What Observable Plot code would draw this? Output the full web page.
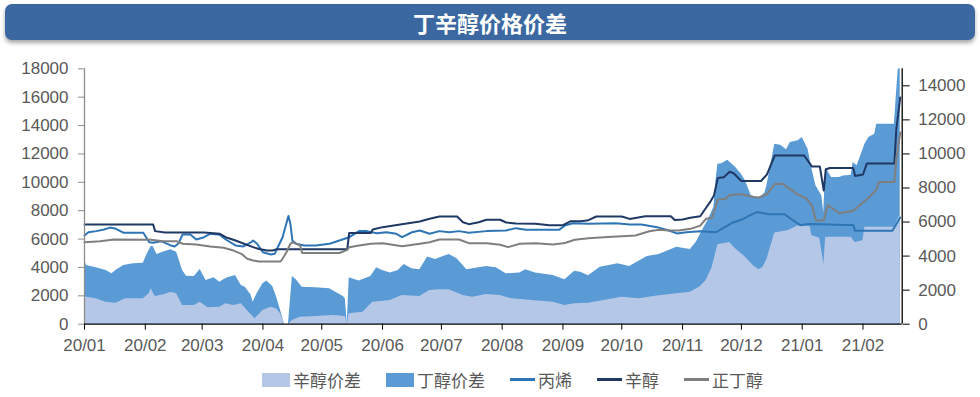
<!DOCTYPE html>
<html><head><meta charset="utf-8">
<script src="https://cdn.jsdelivr.net/npm/d3@7"></script>
<script src="https://cdn.jsdelivr.net/npm/@observablehq/plot@0.6"></script>
<style>
html,body{margin:0;padding:0;background:#fff;}
#wrap{position:relative;width:980px;height:397px;overflow:hidden;}
#title{position:absolute;left:5px;top:4px;width:970px;height:36px;background:#3B68A1;border-radius:7px;box-shadow:0 3px 4px rgba(0,0,0,0.35);color:#fff;font:bold 22px "Noto Sans CJK SC",sans-serif;text-align:center;line-height:36px;}
#chart{position:absolute;left:0;top:50px;}
#legend{position:absolute;left:262px;top:367px;display:flex;gap:25px;align-items:center;font:17px "Noto Sans CJK SC",sans-serif;color:#595959;}
.item{display:flex;align-items:center;gap:3px;}
</style></head>
<body><div id="wrap"><div id="title">丁辛醇价格价差</div><div id="chart"></div><div id="legend"></div></div>
<script>
// ---- data (prices: left axis; spreads: right axis) ----
const propylene = [["2020-01-01",6250],["2020-01-03",6480],["2020-01-07",6560],["2020-01-11",6670],["2020-01-14",6810],["2020-01-17",6720],["2020-01-21",6440],["2020-01-31",6440],["2020-02-03",5780],["2020-02-05",5740],["2020-02-09",5850],["2020-02-14",5550],["2020-02-16",5480],["2020-02-18",5710],["2020-02-20",6320],["2020-02-24",6320],["2020-02-27",5970],["2020-03-02",6130],["2020-03-05",6370],["2020-03-10",6300],["2020-03-13",5970],["2020-03-18",5550],["2020-03-22",5480],["2020-03-26",5780],["2020-03-27",5900],["2020-03-29",5670],["2020-04-01",5070],["2020-04-05",4910],["2020-04-07",4960],["2020-04-09",5550],["2020-04-11",6130],["2020-04-14",7620],["2020-04-15",7080],["2020-04-16",5900],["2020-04-18",5670],["2020-04-22",5550],["2020-04-28",5550],["2020-05-05",5670],["2020-05-10",5900],["2020-05-15",6130],["2020-05-20",6560],["2020-05-24",6560],["2020-05-29",6410],["2020-06-03",6480],["2020-06-08",6370],["2020-06-11",6130],["2020-06-16",6480],["2020-06-20",6600],["2020-06-25",6370],["2020-06-30",6560],["2020-07-05",6480],["2020-07-10",6560],["2020-07-15",6440],["2020-07-24",6560],["2020-08-03",6600],["2020-08-08",6770],["2020-08-13",6650],["2020-08-30",6650],["2020-09-02",6960],["2020-09-06",7120],["2020-09-14",7080],["2020-09-28",7120],["2020-10-05",7030],["2020-10-11",7030],["2020-10-19",6840],["2020-10-25",6600],["2020-10-29",6400],["2020-11-03",6480],["2020-11-10",6550],["2020-11-18",6480],["2020-11-21",6720],["2020-11-27",7190],["2020-12-01",7360],["2020-12-05",7650],["2020-12-09",7900],["2020-12-15",7750],["2020-12-23",7750],["2020-12-26",7450],["2020-12-31",6980],["2021-01-04",7060],["2021-01-11",7050],["2021-01-22",7000],["2021-01-27",7000],["2021-01-28",6580],["2021-02-16",6580],["2021-02-20",7520]];

const octanol = [["2020-01-01",7030],["2020-02-05",7030],["2020-02-06",6560],["2020-02-11",6460],["2020-03-02",6460],["2020-03-10",6370],["2020-03-13",6130],["2020-03-18",5900],["2020-03-22",5690],["2020-03-27",5430],["2020-03-30",5300],["2020-04-03",5200],["2020-04-06",5190],["2020-04-08",5290],["2020-05-14",5290],["2020-05-15",6430],["2020-05-26",6430],["2020-05-27",6670],["2020-06-01",6840],["2020-06-10",7030],["2020-06-20",7240],["2020-06-25",7430],["2020-06-30",7590],["2020-07-09",7590],["2020-07-12",7190],["2020-07-15",7050],["2020-07-20",7190],["2020-07-24",7360],["2020-07-31",7360],["2020-08-03",7170],["2020-08-08",7100],["2020-08-18",7080],["2020-08-25",6980],["2020-09-01",6980],["2020-09-05",7260],["2020-09-10",7260],["2020-09-14",7330],["2020-09-18",7590],["2020-10-01",7590],["2020-10-05",7420],["2020-10-13",7610],["2020-10-26",7610],["2020-10-28",7340],["2020-11-01",7380],["2020-11-05",7500],["2020-11-10",7610],["2020-11-12",8010],["2020-11-15",8600],["2020-11-17",9070],["2020-11-19",10300],["2020-11-22",10360],["2020-11-25",10740],["2020-11-27",10640],["2020-12-01",10090],["2020-12-11",10090],["2020-12-14",10550],["2020-12-18",11890],["2021-01-02",11890],["2021-01-06",11110],["2021-01-10",11110],["2021-01-12",9420],["2021-01-13",10900],["2021-01-15",11010],["2021-01-27",11010],["2021-01-28",10450],["2021-02-01",10550],["2021-02-03",11330],["2021-02-17",11330],["2021-02-18",13740],["2021-02-20",15980]];

const butanol = [["2020-01-01",5780],["2020-01-09",5850],["2020-01-16",5970],["2020-02-04",5950],["2020-02-10",5850],["2020-02-17",5850],["2020-02-20",5670],["2020-02-27",5620],["2020-03-05",5480],["2020-03-12",5390],["2020-03-17",5190],["2020-03-21",4960],["2020-03-24",4610],["2020-03-27",4490],["2020-03-30",4420],["2020-04-10",4420],["2020-04-11",4610],["2020-04-13",5070],["2020-04-15",5670],["2020-04-16",5780],["2020-04-20",5550],["2020-04-21",5020],["2020-05-10",5020],["2020-05-14",5240],["2020-05-15",5430],["2020-05-20",5550],["2020-05-26",5670],["2020-06-01",5710],["2020-06-06",5600],["2020-06-11",5500],["2020-06-20",5670],["2020-06-25",5780],["2020-06-30",5970],["2020-07-10",5970],["2020-07-15",5710],["2020-07-24",5710],["2020-07-31",5600],["2020-08-04",5430],["2020-08-10",5670],["2020-08-18",5710],["2020-08-27",5620],["2020-09-02",5720],["2020-09-07",5950],["2020-09-14",6050],["2020-09-24",6150],["2020-10-08",6250],["2020-10-15",6550],["2020-10-20",6650],["2020-10-25",6600],["2020-10-30",6600],["2020-11-05",6720],["2020-11-10",6950],["2020-11-13",7430],["2020-11-16",7500],["2020-11-19",8790],["2020-11-23",8840],["2020-11-25",9100],["2020-12-01",9160],["2020-12-07",8970],["2020-12-10",8930],["2020-12-14",9160],["2020-12-18",9880],["2020-12-22",9900],["2020-12-26",9500],["2020-12-29",9210],["2021-01-03",8860],["2021-01-06",8350],["2021-01-08",7310],["2021-01-12",7310],["2021-01-14",8400],["2021-01-20",7820],["2021-01-27",7990],["2021-01-30",8350],["2021-02-04",8930],["2021-02-08",9520],["2021-02-09",10020],["2021-02-17",10020],["2021-02-18",11630],["2021-02-20",13510]];

const octanolSpread = [["2020-01-01",1650],["2020-01-02",1590],["2020-01-07",1490],["2020-01-12",1290],["2020-01-17",1230],["2020-01-22",1490],["2020-01-31",1490],["2020-02-03",1790],["2020-02-04",2080],["2020-02-06",1630],["2020-02-11",1740],["2020-02-14",1880],["2020-02-17",1790],["2020-02-20",1100],["2020-02-26",1100],["2020-02-29",1290],["2020-03-04",960],["2020-03-10",1000],["2020-03-13",1200],["2020-03-17",1100],["2020-03-21",1200],["2020-03-24",810],["2020-03-28",320],["2020-04-01",800],["2020-04-05",1000],["2020-04-08",900],["2020-04-10",610],["2020-04-12",0],["2020-04-14",0],["2020-04-16",220],["2020-04-20",410],["2020-04-28",450],["2020-05-07",510],["2020-05-13",450],["2020-05-14",20],["2020-05-15",610],["2020-05-22",700],["2020-05-27",1290],["2020-06-05",1390],["2020-06-11",1690],["2020-06-20",1630],["2020-06-25",1980],["2020-06-30",2020],["2020-07-05",2020],["2020-07-12",1690],["2020-07-17",1590],["2020-07-24",1740],["2020-07-31",1690],["2020-08-06",1490],["2020-08-16",1390],["2020-08-27",1290],["2020-09-02",1100],["2020-09-07",1200],["2020-09-14",1230],["2020-09-24",1430],["2020-10-01",1590],["2020-10-10",1490],["2020-10-19",1650],["2020-10-29",1790],["2020-11-05",1880],["2020-11-10",2200],["2020-11-13",2560],["2020-11-16",3300],["2020-11-19",4670],["2020-11-25",4800],["2020-11-28",4430],["2020-12-03",3940],["2020-12-07",3450],["2020-12-10",3200],["2020-12-12",3350],["2020-12-14",3800],["2020-12-18",5350],["2020-12-25",5500],["2020-12-30",5780],["2021-01-05",5740],["2021-01-06",5200],["2021-01-10",5050],["2021-01-12",3500],["2021-01-13",5100],["2021-01-26",5100],["2021-01-28",4800],["2021-02-01",4900],["2021-02-02",5700],["2021-02-17",5700],["2021-02-20",6450]];

const butanolSpread = [["2020-01-01",3770],["2020-01-02",3450],["2020-01-07",3310],["2020-01-12",3150],["2020-01-15",2960],["2020-01-17",3150],["2020-01-21",3450],["2020-01-26",3550],["2020-01-31",3580],["2020-02-02",4130],["2020-02-04",4560],["2020-02-05",4560],["2020-02-07",4090],["2020-02-10",4230],["2020-02-14",4370],["2020-02-17",4230],["2020-02-20",3150],["2020-02-22",2820],["2020-02-26",2800],["2020-02-29",3210],["2020-03-03",2570],["2020-03-07",2730],["2020-03-10",2470],["2020-03-12",2610],["2020-03-14",2730],["2020-03-18",2860],["2020-03-21",2270],["2020-03-23",2170],["2020-03-26",1700],["2020-03-27",1290],["2020-03-29",1790],["2020-04-01",2370],["2020-04-03",2530],["2020-04-06",2210],["2020-04-08",1590],["2020-04-10",800],["2020-04-12",0],["2020-04-14",0],["2020-04-16",2800],["2020-04-18",2610],["2020-04-21",2170],["2020-04-28",2140],["2020-05-05",2080],["2020-05-12",1630],["2020-05-13",1490],["2020-05-14",20],["2020-05-15",2730],["2020-05-20",2530],["2020-05-26",2800],["2020-05-29",3310],["2020-06-01",3150],["2020-06-05",3000],["2020-06-09",3150],["2020-06-12",3510],["2020-06-16",3250],["2020-06-20",3200],["2020-06-24",3940],["2020-06-28",3800],["2020-07-02",3980],["2020-07-05",4090],["2020-07-09",3840],["2020-07-14",3200],["2020-07-17",3250],["2020-07-24",3390],["2020-07-29",3310],["2020-08-03",2960],["2020-08-10",3000],["2020-08-13",3200],["2020-08-18",3000],["2020-08-27",2860],["2020-09-02",2610],["2020-09-07",3110],["2020-09-10",3050],["2020-09-14",2850],["2020-09-20",3350],["2020-09-29",3550],["2020-10-05",3390],["2020-10-14",3980],["2020-10-20",4090],["2020-10-25",4330],["2020-10-29",4520],["2020-11-05",4380],["2020-11-08",4820],["2020-11-12",5700],["2020-11-14",6100],["2020-11-17",6870],["2020-11-18",8400],["2020-11-19",9400],["2020-11-21",9420],["2020-11-24",9630],["2020-11-28",9220],["2020-12-01",8800],["2020-12-03",8440],["2020-12-06",7560],["2020-12-10",7400],["2020-12-13",7700],["2020-12-14",8130],["2020-12-18",10570],["2020-12-21",10510],["2020-12-24",10240],["2020-12-26",10670],["2020-12-30",10770],["2021-01-01",10960],["2021-01-04",10280],["2021-01-06",9100],["2021-01-08",8130],["2021-01-11",7540],["2021-01-12",6560],["2021-01-13",9200],["2021-01-16",8620],["2021-01-20",8620],["2021-01-22",8710],["2021-01-26",8750],["2021-01-27",9500],["2021-01-29",9300],["2021-02-02",10570],["2021-02-04",10960],["2021-02-07",11160],["2021-02-08",11750],["2021-02-17",11750],["2021-02-18",13410],["2021-02-19",15000],["2021-02-20",15000]];

const monthTicks = ["2020-01-01","2020-02-01","2020-03-01","2020-04-01","2020-05-01","2020-06-01","2020-07-01","2020-08-01","2020-09-01","2020-10-01","2020-11-01","2020-12-01","2021-01-01","2021-02-01"];
const monthLabels = ["20/01","20/02","20/03","20/04","20/05","20/06","20/07","20/08","20/09","20/10","20/11","20/12","21/01","21/02"];
const leftTicks = [0,2000,4000,6000,8000,10000,12000,14000,16000,18000];
const rightTicks = [0,2000,4000,6000,8000,10000,12000,14000];
const xDomain = ["2020-01-01","2021-02-21"];
const leftMax = 18000, rightMax = 15000;
const legendNames = ["辛醇价差","丁醇价差","丙烯","辛醇","正丁醇"];
const colors = ["#B4C7E7","#5B9BD5","#2E75B6","#1F3864","#7F7F7F"];

// ---- chart ----
const parse = d3.utcParse("%Y-%m-%d");
const ratio = leftMax / rightMax;
const labelMap = new Map(monthTicks.map((t, i) => [+parse(t), monthLabels[i]]));
const X = d => parse(d[0]);
const x0 = parse(xDomain[0]), x1 = parse(xDomain[1]);

const chart = Plot.plot({
  width: 980, height: 305,
  marginLeft: 84, marginRight: 78.3, marginTop: 18.3, marginBottom: 31.3,
  x: {type: "utc", domain: [x0, x1]},
  y: {domain: [0, leftMax]},
  style: {fontFamily: "'Liberation Sans', Arial, sans-serif", fontSize: "17px", color: "#595959", background: "#fff", overflow: "visible"},
  marks: [
    Plot.areaY(butanolSpread, {x: X, y: d => d[1] * ratio, fill: colors[1], clip: true}),
    Plot.areaY(octanolSpread, {x: X, y: d => d[1] * ratio, fill: colors[0], clip: true}),
    Plot.line(propylene, {x: X, y: d => d[1], stroke: colors[2], strokeWidth: 2}),
    Plot.line(octanol, {x: X, y: d => d[1], stroke: colors[3], strokeWidth: 2}),
    Plot.line(butanol, {x: X, y: d => d[1], stroke: colors[4], strokeWidth: 2}),
    Plot.ruleX([x0], {stroke: "#8C8C8C", strokeWidth: 1.3}),
    Plot.ruleX([x1], {stroke: "#000", strokeWidth: 1.3}),
    Plot.ruleY([0], {stroke: "#000", strokeWidth: 1.3}),
    Plot.axisY({ticks: leftTicks, tickFormat: d => String(d), tickSize: 6, tickPadding: 10, stroke: "#8C8C8C", fill: "#595959", fontSize: 17, label: null}),
    Plot.axisY({anchor: "right", ticks: rightTicks.map(v => v * ratio), tickFormat: d => String(Math.round(d / ratio)), tickSize: 7, tickPadding: 9, stroke: "#000", fill: "#595959", fontSize: 17, label: null}),
    Plot.axisX({ticks: monthTicks.map(parse), tickFormat: d => labelMap.get(+d), tickSize: 6, tickPadding: 9, stroke: "#000", fill: "#595959", fontSize: 17, label: null})
  ]
});
document.getElementById("chart").appendChild(chart);

// ---- legend ----
const legend = document.getElementById("legend");
legendNames.forEach((name, i) => {
  const item = document.createElement("div");
  item.className = "item";
  const sw = document.createElement("span");
  if (i < 2) { sw.style.cssText = `display:inline-block;width:28px;height:14px;background:${colors[i]}`; }
  else { sw.style.cssText = `display:inline-block;width:25px;height:3px;background:${colors[i]}`; }
  const t = document.createElement("span");
  t.textContent = name;
  item.appendChild(sw); item.appendChild(t);
  legend.appendChild(item);
});
</script></body></html>
